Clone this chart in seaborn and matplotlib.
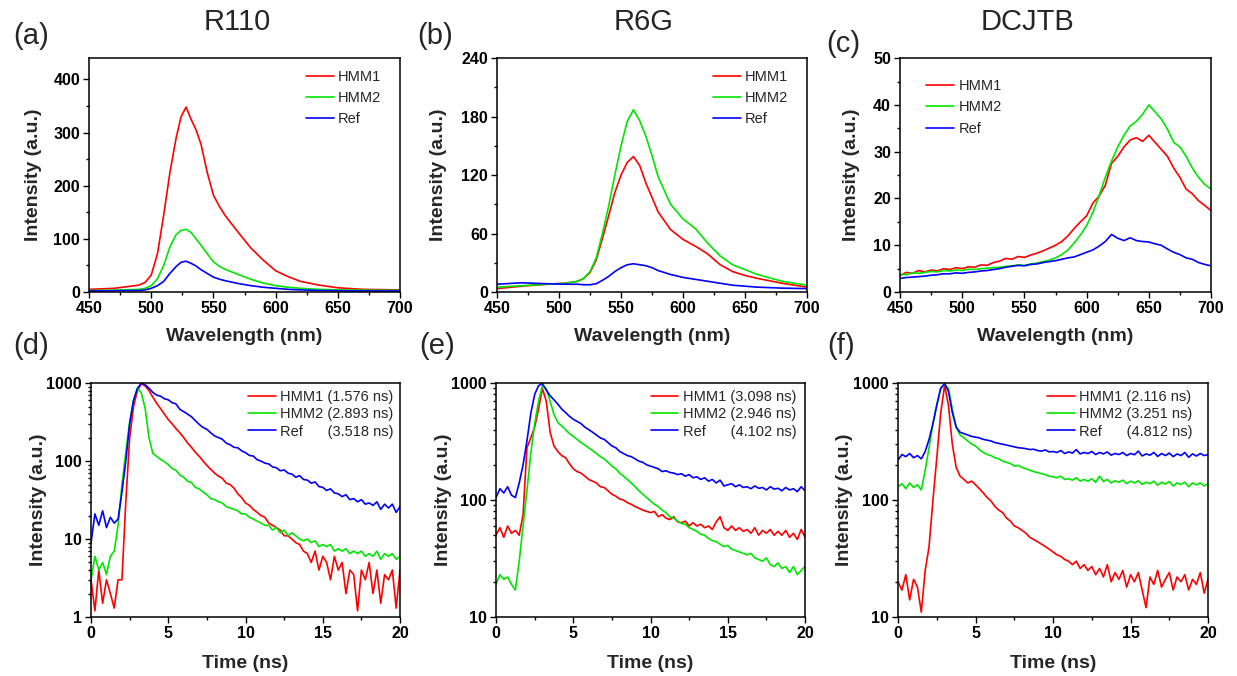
import numpy as np
import matplotlib
matplotlib.use('Agg')
from matplotlib import pyplot as plt
from matplotlib.ticker import MultipleLocator, LogLocator, NullFormatter, FuncFormatter
import seaborn as sns

sns.set_style('ticks')
plt.rcParams['font.family'] = ['Liberation Sans', 'DejaVu Sans']

# ---- steady-state emission spectra (top row) ----
wl_a = [450, 470, 490, 495, 500, 505, 510, 515, 520, 524, 528, 532, 536, 540, 545,
        550, 555, 560, 570, 580, 590, 600, 610, 620, 635, 650, 670, 700]
r110_hmm1 = [5, 7, 13, 18, 32, 72, 145, 225, 290, 330, 348, 325, 305, 278, 225,
             182, 160, 142, 112, 83, 60, 40, 29, 20, 13, 8, 5, 4]
r110_hmm2 = [3, 3.5, 5, 7, 12, 25, 50, 85, 108, 116, 118, 112, 100, 88, 72,
             57, 48, 42, 33, 24, 17, 12, 9, 7, 5, 4, 3.5, 3]
r110_ref = [2, 2.5, 3, 4, 7, 12, 20, 35, 48, 56, 58, 54, 49, 42, 35,
            28, 24, 21, 16, 12, 9, 7, 5, 4, 3, 2.5, 2, 2]

wl_b = [450, 470, 490, 505, 515, 520, 525, 530, 535, 540, 545, 550, 555, 560,
        565, 570, 575, 580, 590, 600, 610, 620, 630, 640, 650, 660, 680, 700]
r6g_hmm1 = [3.5, 6, 8, 9, 11, 14, 20, 33, 55, 78, 102, 120, 133, 139,
            130, 112, 97, 82, 64, 54, 47, 39, 28, 21, 17, 14, 9, 5]
r6g_hmm2 = [5, 6.5, 8, 9, 11, 14, 21, 35, 60, 88, 120, 150, 175, 187,
            176, 160, 140, 118, 90, 75, 65, 50, 37, 28, 23, 18, 11, 7]
r6g_ref = [8, 9.5, 8.5, 8, 8, 7.5, 7.5, 8.5, 12, 16, 21, 25, 28, 29,
           28, 27, 25, 22, 18, 15, 13, 11, 9, 7, 6, 5, 4, 3.5]

# DCJTB sampled every 5 nm from 450 to 700
wl_c = list(range(450, 701, 5))
dcjtb_hmm1 = [3.5, 4.2, 4.0, 4.6, 4.3, 4.7, 4.5, 5.0, 4.8, 5.2,
              5.0, 5.4, 5.3, 5.8, 5.7, 6.3, 6.6, 7.2, 7.0, 7.6,
              7.4, 7.9, 8.3, 8.8, 9.4, 10.0, 10.8, 12.0, 13.6, 15.0,
              16.3, 19.0, 20.5, 22.8, 27.5, 29.0, 31.0, 32.5, 33.0, 32.2,
              33.5, 32.0, 30.5, 29.0, 26.5, 24.5, 22.0, 21.0, 19.5, 18.5,
              17.4]
dcjtb_hmm2 = [3.8, 3.7, 4.1, 4.0, 4.2, 4.4, 4.3, 4.6, 4.5, 4.7,
              4.6, 4.9, 4.8, 5.0, 5.1, 5.2, 5.3, 5.5, 5.6, 5.8,
              5.7, 6.0, 6.2, 6.5, 6.8, 7.3, 8.0, 9.0, 10.5, 12.2,
              14.2, 17.0, 20.6, 24.5, 28.0, 31.0, 33.5, 35.5, 36.5, 38.0,
              40.0, 38.5, 37.0, 34.8, 32.0, 31.0, 29.0, 26.5, 24.5, 23.0,
              22.0]
dcjtb_ref = [2.9, 3.1, 3.2, 3.3, 3.4, 3.6, 3.7, 3.9, 3.9, 4.1,
             4.0, 4.2, 4.3, 4.5, 4.6, 4.8, 5.0, 5.3, 5.5, 5.7,
             5.6, 5.9, 6.0, 6.3, 6.5, 6.7, 7.0, 7.3, 7.5, 8.0,
             8.5, 9.0, 9.8, 10.8, 12.3, 11.5, 11.0, 11.6, 11.0, 10.8,
             10.7, 10.3, 10.0, 9.2, 8.5, 8.0, 7.3, 7.0, 6.3, 5.9,
             5.6]

# ---- time-resolved decays (bottom row), sampled every 0.25 ns, 0..20 ns ----
# rows: 0-1.75 ns, 2.0-4.0 ns, then four values per ns up to 20 ns
d_hmm1 = [3, 1.2, 4, 1.5, 3, 2, 1.3, 3,
          3, 30, 200, 500, 800, 980, 920, 800, 660,
          550, 470, 400, 340, 300, 260, 230, 200, 170, 150, 130, 115,
          100, 88, 78, 70, 64, 60, 52, 50, 45, 38, 34, 29,
          27, 24, 22, 20, 19, 16, 15, 14, 13, 11, 11, 10,
          9, 8.5, 7, 6.5, 5, 7, 4, 6, 5, 3, 6, 4,
          5, 2, 4, 3.5, 1.2, 4, 3, 5, 2, 4, 1.5, 3.5,
          3, 4, 1.3, 4]
d_hmm2 = [3, 6, 4, 5, 3.5, 6, 7, 15,
          50, 130, 320, 600, 870, 750, 480, 200, 125,
          115, 105, 98, 90, 80, 76, 66, 62, 55, 53, 46, 44,
          40, 37, 33, 32, 30, 29, 26, 25, 24, 23, 21, 21,
          19, 18, 17, 16, 15, 15, 13, 14, 12, 13, 11, 12,
          11, 10, 9.5, 10, 9, 9.5, 8, 8.5, 8, 8.5, 7, 7.5,
          7, 7.5, 6.5, 7, 6.5, 7, 6, 6.5, 6, 7, 5.5, 6.5,
          6, 6.5, 5.5, 6]
d_ref = [9, 21, 15, 23, 14, 19, 16, 18,
         40, 100, 300, 600, 850, 1000, 950, 860, 760,
         700, 680, 630, 610, 560, 540, 460, 430, 400, 370, 330, 295,
         270, 255, 230, 210, 200, 190, 170, 162, 150, 148, 135, 128,
         118, 116, 104, 100, 94, 92, 84, 82, 75, 77, 70, 68,
         62, 65, 58, 57, 52, 54, 47, 46, 42, 44, 39, 38,
         35, 37, 32, 33, 30, 32, 28, 29, 27, 30, 24, 28,
         25, 28, 22, 26]

e_hmm1 = [50, 58, 48, 60, 52, 55, 50, 75,
          280, 340, 420, 600, 900, 700, 380, 290, 260,
          240, 230, 205, 185, 175, 170, 160, 150, 145, 140, 130, 128,
          120, 112, 108, 102, 100, 95, 92, 88, 85, 82, 80, 78,
          80, 72, 75, 70, 68, 72, 65, 64, 66, 60, 64, 60,
          62, 58, 60, 56, 65, 72, 58, 55, 60, 55, 58, 54,
          56, 52, 58, 50, 55, 52, 56, 50, 54, 50, 55, 48,
          52, 46, 56, 48]
e_hmm2 = [19, 23, 21, 22, 19, 17, 30, 60,
          120, 250, 450, 700, 950, 900, 700, 540, 460,
          430, 400, 370, 350, 330, 310, 295, 280, 265, 250, 235, 225,
          210, 195, 185, 170, 160, 150, 140, 130, 120, 112, 105, 98,
          92, 88, 82, 78, 72, 70, 66, 63, 62, 58, 56, 54,
          51, 50, 47, 45, 44, 42, 40, 41, 38, 37, 36, 35,
          34, 35, 32, 31, 30, 32, 28, 27, 29, 26, 27, 24,
          27, 23, 25, 27]
e_ref = [105, 125, 115, 130, 110, 105, 140, 200,
         320, 550, 800, 950, 990, 870, 780, 720, 660,
         600, 560, 520, 490, 470, 450, 420, 400, 380, 360, 340, 330,
         310, 290, 280, 260, 250, 240, 235, 225, 215, 210, 200, 195,
         190, 185, 175, 178, 172, 170, 165, 168, 160, 165, 155, 158,
         150, 155, 145, 150, 140, 148, 132, 135, 138, 130, 135, 128,
         130, 125, 132, 126, 128, 122, 130, 124, 126, 120, 128, 122,
         125, 118, 130, 120]

f_hmm1 = [20, 17, 23, 14, 21, 18, 11, 25,
          40, 100, 230, 550, 950, 650, 300, 190, 160,
          150, 140, 145, 135, 125, 115, 105, 98, 88, 82, 78, 70,
          66, 60, 58, 55, 52, 48, 46, 44, 42, 40, 38, 36,
          34, 33, 31, 30, 28, 30, 26, 28, 25, 27, 23, 26,
          22, 28, 20, 24, 21, 25, 18, 23, 20, 24, 17, 12,
          22, 19, 25, 18, 21, 24, 17, 22, 20, 23, 17, 21,
          19, 24, 16, 21]
f_hmm2 = [130, 138, 125, 140, 128, 135, 122, 180,
          280, 450, 650, 900, 980, 900, 600, 420, 360,
          340, 320, 300, 290, 270, 255, 245, 240, 230, 225, 215, 210,
          205, 195, 198, 190, 185, 180, 175, 172, 168, 165, 160, 158,
          155, 160, 150, 152, 148, 155, 145, 150, 145, 152, 142, 160,
          144, 150, 140, 146, 142, 148, 138, 145, 140, 146, 136, 142,
          138, 145, 134, 142, 137, 144, 132, 140, 136, 142, 130, 140,
          135, 140, 132, 138]
f_ref = [220, 245, 235, 250, 230, 240, 225, 260,
         330, 450, 650, 900, 990, 850, 560, 420, 380,
         370, 360, 350, 345, 340, 330, 325, 320, 310, 305, 300, 295,
         290, 285, 280, 278, 275, 270, 272, 265, 262, 268, 258, 260,
         255, 265, 250, 258, 252, 270, 248, 255, 250, 260, 245, 255,
         248, 258, 242, 250, 245, 255, 240, 250, 244, 262, 238, 248,
         242, 255, 236, 250, 240, 252, 235, 248, 240, 255, 232, 248,
         238, 250, 240, 245]

dyes = ['R110', 'R6G', 'DCJTB']
lifetimes = [['1.576', '2.893', '3.518'],
             ['3.098', '2.946', '4.102'],
             ['2.116', '3.251', '4.812']]

RED, GREEN, BLUE = '#ff0000', '#00e600', '#0000ff'

fig = plt.figure(figsize=(12.37, 6.76), dpi=100)

top_pos = [[0.0720, 0.568, 0.2514, 0.346],
           [0.4018, 0.568, 0.2506, 0.346],
           [0.7276, 0.568, 0.2514, 0.346]]
bot_pos = [[0.0736, 0.0873, 0.2498, 0.346],
           [0.4010, 0.0873, 0.2498, 0.346],
           [0.7260, 0.0873, 0.2506, 0.346]]


def style_axes(ax):
    for s in ax.spines.values():
        s.set_linewidth(1.1)
        s.set_color('black')
        s.set_visible(True)
    ax.tick_params(which='both', direction='out', width=1.0, colors='black',
                   top=False, right=False)
    ax.tick_params(which='major', length=4.5, labelsize=11.5, pad=2)
    ax.tick_params(which='minor', length=2.5)
    for lab in ax.get_xticklabels() + ax.get_yticklabels():
        lab.set_fontweight('bold')


top_data = [(wl_a, r110_hmm1, r110_hmm2, r110_ref, 440, 100),
            (wl_b, r6g_hmm1, r6g_hmm2, r6g_ref, 240, 60),
            (wl_c, dcjtb_hmm1, dcjtb_hmm2, dcjtb_ref, 50, 10)]
top_leg = [('upper right', (0.94, 0.95)),
           ('upper right', (0.94, 0.95)),
           ('upper left', (0.085, 0.91))]
ylab_top = [-0.151, -0.161, -0.129]

for i, (wl, h1, h2, rf, ymax, ystep) in enumerate(top_data):
    ax = fig.add_axes(top_pos[i])
    sns.lineplot(x=wl, y=h1, color=RED, lw=1.2, label='HMM1', ax=ax)
    sns.lineplot(x=wl, y=h2, color=GREEN, lw=1.2, label='HMM2', ax=ax)
    sns.lineplot(x=wl, y=rf, color=BLUE, lw=1.2, label='Ref', ax=ax)
    ax.set_xlim(450, 700)
    ax.set_ylim(0, ymax)
    ax.xaxis.set_major_locator(MultipleLocator(50))
    ax.xaxis.set_minor_locator(MultipleLocator(25))
    ax.yaxis.set_major_locator(MultipleLocator(ystep))
    ax.yaxis.set_minor_locator(MultipleLocator(ystep / 2))
    style_axes(ax)
    ax.set_xlabel('Wavelength (nm)', fontsize=14, fontweight='bold')
    ax.set_ylabel('Intensity (a.u.)', fontsize=14, fontweight='bold')
    ax.xaxis.set_label_coords(0.5, -0.152)
    ax.yaxis.set_label_coords(ylab_top[i], 0.5)
    loc, anchor = top_leg[i]
    ax.legend(loc=loc, bbox_to_anchor=anchor, frameon=False, fontsize=10.5,
              handlelength=1.9, handletextpad=0.3, labelspacing=0.5,
              borderpad=0, borderaxespad=0)

bot_data = [(d_hmm1, d_hmm2, d_ref, 1),
            (e_hmm1, e_hmm2, e_ref, 10),
            (f_hmm1, f_hmm2, f_ref, 10)]
bot_leg = [(0.98, 0.97), (0.972, 0.97), (0.95, 0.97)]
ylab_bot = [-0.142, -0.142, -0.145]

for i, (h1, h2, rf, ymin) in enumerate(bot_data):
    ax = fig.add_axes(bot_pos[i])
    t = np.linspace(0, 20, len(h1))
    lt = lifetimes[i]
    sns.lineplot(x=t, y=h1, color=RED, lw=1.2, label=f'HMM1 ({lt[0]} ns)', ax=ax)
    sns.lineplot(x=t, y=h2, color=GREEN, lw=1.2, label=f'HMM2 ({lt[1]} ns)', ax=ax)
    sns.lineplot(x=t, y=rf, color=BLUE, lw=1.2, label=f'Ref      ({lt[2]} ns)', ax=ax)
    ax.set_yscale('log')
    ax.set_xlim(0, 20)
    ax.set_ylim(ymin, 1000)
    ax.xaxis.set_major_locator(MultipleLocator(5))
    ax.xaxis.set_minor_locator(MultipleLocator(2.5))
    ax.yaxis.set_major_locator(LogLocator(base=10))
    ax.yaxis.set_minor_locator(LogLocator(base=10, subs=np.arange(2, 10)))
    ax.yaxis.set_major_formatter(FuncFormatter(lambda v, _: f'{v:g}'))
    ax.yaxis.set_minor_formatter(NullFormatter())
    style_axes(ax)
    ax.set_xlabel('Time (ns)', fontsize=14, fontweight='bold')
    ax.set_ylabel('Intensity (a.u.)', fontsize=14, fontweight='bold')
    ax.xaxis.set_label_coords(0.5, -0.163)
    ax.yaxis.set_label_coords(ylab_bot[i], 0.5)
    ax.legend(loc='upper right', bbox_to_anchor=bot_leg[i], frameon=False,
              fontsize=10.5, handlelength=1.9, handletextpad=0.3,
              labelspacing=0.22, borderpad=0, borderaxespad=0)

# panel letters and dye titles
for x, y, s in [(0.0105, 0.947, '(a)'), (0.337, 0.947, '(b)'), (0.668, 0.935, '(c)'),
                (0.0105, 0.488, '(d)'), (0.339, 0.488, '(e)'), (0.669, 0.488, '(f)')]:
    fig.text(x, y, s, fontsize=21, ha='left', va='center')
for x, s in zip([0.1916, 0.520, 0.831], dyes):
    fig.text(x, 0.967, s, fontsize=21, ha='center', va='center')

plt.savefig('out.png', dpi=100)
